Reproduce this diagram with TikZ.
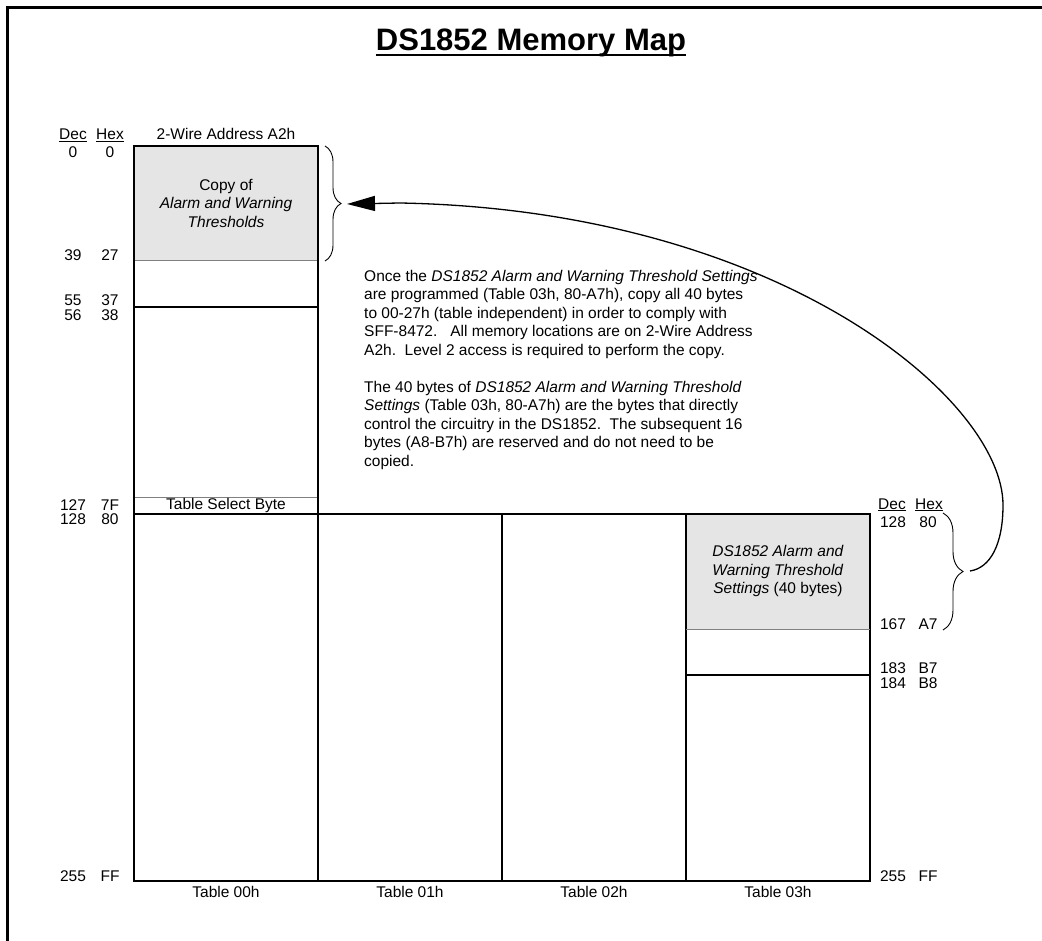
\documentclass[tikz,border=0pt]{standalone}
\usepackage{fontspec}
\setmainfont{Liberation Sans}
\usetikzlibrary{arrows.meta,decorations.pathreplacing,positioning}

\begin{document}
\begin{tikzpicture}[x=1pt,y=-1pt,
    txt/.style={font=\fontsize{15.5}{18.5}\selectfont,inner sep=0pt},
    num/.style={txt,anchor=base},
    cell/.style={draw=black,line width=1.7pt},
    lightsep/.style={draw=gray,line width=1pt},
    shade/.style={fill=gray!20},
    curly/.style={decorate,decoration={brace,amplitude=#1},line width=0.9pt}]
  \useasboundingbox (0,0) rectangle (1042,941);
  % frame and title
  \draw[line width=3pt] (7,941) -- (7,8) -- (1042,8);
  \node[font=\fontsize{31}{36}\selectfont\bfseries,inner sep=0pt,anchor=base] (title) at (531,51) {DS1852 Memory Map};
  \draw[line width=2pt] ([yshift=-4pt]title.base west) -- ([yshift=-4pt]title.base east);

  % shaded areas
  \fill[shade] (134,146) rectangle (318,261);
  \fill[shade] (686,514) rectangle (870,629);

  % lower 128 bytes, table independent
  \draw[lightsep] (134,261) -- (318,261);
  \draw[lightsep] (134,497) -- (318,497);
  \draw[cell] (134,307) -- (318,307);
  \draw[cell] (134,514) -- (134,146) -- (318,146) -- (318,514);

  % upper 128 bytes, tables 00h..03h
  \draw[cell] (134,514) rectangle (870,881);
  \foreach \x in {318,502,686}
    \draw[cell] (\x,514) -- (\x,881);
  \draw[lightsep] (686,629) -- (870,629);
  \draw[cell] (686,675) -- (870,675);

  % texts in the map
  \node[txt] (addr) at (226,134) {2-Wire Address A2h};
  \node[txt,align=center] (copy) at (226,203) {Copy of\\\textit{Alarm and Warning}\\\textit{Thresholds}};
  \node[txt] (tsb) at (226,505.5) {Table Select Byte};
  \node[txt,align=center] (thr) at (778,571) {\textit{DS1852 Alarm and}\\\textit{Warning Threshold}\\\textit{Settings} (40 bytes)};
  \foreach \x/\t in {226/00,410/01,594/02,778/03}
    \node[txt] (tab\t) at (\x,892) {Table \t h};

  % addresses
  \node[num] (ldec) at (73,140) {\underline{Dec}};
  \node[num] (lhex) at (110,140) {\underline{Hex}};
  \foreach \y/\d/\h in {152/0/0,255/39/27,300/55/37,315/56/38,505/127/7F,519/128/80,876/255/FF}
    {\node[num] (ldec\d) at (73,\y+5.4) {\d};
     \node[num] (lhex\d) at (110,\y+5.4) {\h};}
  \node[num] (rdec) at (892,509) {\underline{Dec}};
  \node[num] (rhex) at (929,509) {\underline{Hex}};
  \foreach \y/\d/\h in {522/128/80,624/167/A7,668/183/B7,683/184/B8,876/255/FF}
    {\node[num] (rdec\d) at (893,\y+5.4) {\d};
     \node[num] (rhex\d) at (928,\y+5.4) {\h};}

  % note
  \node[txt,align=left,anchor=north west] (note) at (364,270) {Once the \textit{DS1852 Alarm and Warning Threshold Settings}\\
    are programmed (Table 03h, 80-A7h), copy all 40 bytes\\
    to 00-27h (table independent) in order to comply with\\
    SFF-8472.\ \ \ All memory locations are on 2-Wire Address\\
    A2h.\ \ Level 2 access is required to perform the copy.\\[18.5pt]
    The 40 bytes of \textit{DS1852 Alarm and Warning Threshold}\\
    \textit{Settings} (Table 03h, 80-A7h) are the bytes that directly\\
    control the circuitry in the DS1852.\ \ The subsequent 16\\
    bytes (A8-B7h) are reserved and do not need to be\\
    copied.};

  % braces and copy arrow
  \draw[curly=16pt] (325,146) -- (325,261);
  \draw[curly=20pt] (943,513) -- (943,630);
  \coordinate (ltip) at (341,204);
  \coordinate (rtip) at (963,571);
  \draw[line width=1.3pt,-{Triangle[length=28pt,width=15pt]}] ([xshift=7pt]rtip)
    .. controls (990,568) and (1003,545) .. (1003,505)
    .. controls (1003,400) and (780,210) .. (400,203) -- ([xshift=6pt]ltip);
\end{tikzpicture}
\end{document}
